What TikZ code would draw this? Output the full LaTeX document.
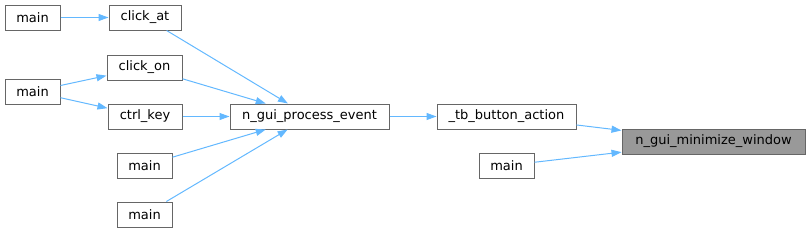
\documentclass[tikz,border=0pt]{standalone}
\usepackage{fontspec}
\setmainfont{DejaVu Sans}
\usetikzlibrary{arrows.meta}
\definecolor{edgeblue}{HTML}{63B8FF}
\definecolor{boxgray}{HTML}{666666}
\definecolor{hlfill}{HTML}{999999}
\begin{document}
\begin{tikzpicture}[x=1pt,y=-1pt,
  fn/.style={draw=boxgray, line width=1pt, fill=white, inner sep=0pt, minimum height=25pt,
    font=\fontsize{13}{15}\selectfont, text=black, anchor=center},
  hl/.style={fn, fill=hlfill},
  call/.style={draw=edgeblue, line width=1pt, -{Triangle[length=10pt,width=7pt]}, fill=none}
]
\useasboundingbox (0,0) rectangle (812,233);
\node[fn, minimum width=55pt] (m1) at (32.5,17.5) {main};
\node[fn, minimum width=72pt] (clickat) at (145,17.5) {click\_at};
\node[fn, minimum width=75pt] (clickon) at (144.5,67.5) {click\_on};
\node[fn, minimum width=55pt] (m2) at (32.5,91.5) {main};
\node[fn, minimum width=74pt] (ctrl) at (145,116.5) {ctrl\_key};
\node[fn, minimum width=55pt] (m3) at (144.5,165.5) {main};
\node[fn, minimum width=55pt] (m4) at (144.5,214.5) {main};
\node[fn, minimum width=159pt] (proc) at (309.5,116.5) {n\_gui\_process\_event};
\node[fn, minimum width=139pt] (tb) at (506.5,116.5) {\_tb\_button\_action};
\node[fn, minimum width=55pt] (m5) at (506.5,165.5) {main};
\node[hl, minimum width=183pt] (mini) at (713.5,141.5) {n\_gui\_minimize\_window};
\draw[call] (m1) -- (clickat);
\draw[call] (m2) -- (clickon);
\draw[call] (m2) -- (ctrl);
\draw[call] (clickat) -- (proc);
\draw[call] (clickon) -- (proc);
\draw[call] (ctrl) -- (proc);
\draw[call] (m3) -- (proc);
\draw[call] (m4) -- (proc);
\draw[call] (proc) -- (tb);
\draw[call] (tb) -- (mini);
\draw[call] (m5) -- (mini);
\end{tikzpicture}
\end{document}
